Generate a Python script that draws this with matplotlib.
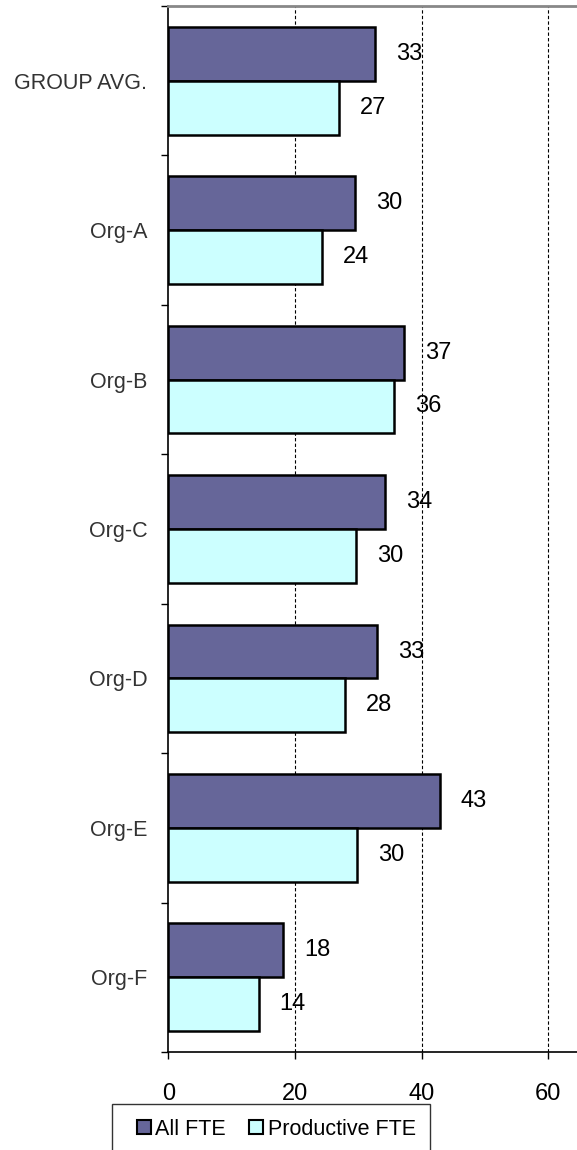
import matplotlib
matplotlib.use("Agg")
import matplotlib.pyplot as plt
from matplotlib.patches import Rectangle
import numpy as np

categories = ["GROUP AVG.", "Org-A", "Org-B", "Org-C", "Org-D", "Org-E", "Org-F"]
all_fte = [32.6, 29.5, 37.2, 34.2, 33.0, 42.9, 18.1]
productive_fte = [26.9, 24.2, 35.6, 29.7, 27.9, 29.8, 14.3]
all_labels = ["33", "30", "37", "34", "33", "43", "18"]
prod_labels = ["27", "24", "36", "30", "28", "30", "14"]
xticks = [0, 20, 40, 60]

plt.rcParams['font.family'] = ['Liberation Sans', 'DejaVu Sans']

W, H = 577, 1150
fig = plt.figure(figsize=(W / 100, H / 100), dpi=100)
left_px, top_px, bottom_px = 168.3, 6, 1052
ppu = (548.3 - 168.3) / 60.0
xmax = 65
ax = fig.add_axes([left_px / W, 1 - bottom_px / H, xmax * ppu / W, (bottom_px - top_px) / H])

y = np.arange(len(categories))
h = 0.36
dark = "#666699"
light = "#CCFFFF"
ax.barh(y - h / 2, all_fte, height=h, color=dark, edgecolor="black", linewidth=1.8, zorder=3, label="All FTE")
ax.barh(y + h / 2, productive_fte, height=h, color=light, edgecolor="black", linewidth=1.8, zorder=3, label="Productive FTE")

for yi, v, lab in zip(y, all_fte, all_labels):
    ax.annotate(lab, (v, yi - h / 2), xytext=(15, 0), textcoords="offset points",
                ha="left", va="center", fontsize=17, color="black", zorder=4)
for yi, v, lab in zip(y, productive_fte, prod_labels):
    ax.annotate(lab, (v, yi + h / 2), xytext=(15, 0), textcoords="offset points",
                ha="left", va="center", fontsize=17, color="black", zorder=4)

ax.set_xlim(0, xmax)
ax.set_ylim(len(categories) - 0.5, -0.5)

ax.set_xticks(xticks)
ax.set_xticklabels([str(t) for t in xticks], fontsize=17)
ax.tick_params(axis="x", direction="out", length=5, width=1, pad=17, colors="black")
for t in xticks[1:]:
    ax.axvline(t, color="black", linestyle=(0, (3, 2)), linewidth=0.8, zorder=1)

ax.set_yticks(np.arange(-0.5, len(categories)), minor=False)
ax.set_yticklabels([])
ax.tick_params(axis="y", which="major", direction="out", length=5, width=1)
ax.set_yticks(y, minor=True)
ax.set_yticklabels(categories, minor=True, fontsize=15.5, color="#333333")
ax.tick_params(axis="y", which="minor", length=0, pad=15)

ax.spines["right"].set_visible(False)
ax.spines["top"].set_color("#888888")
ax.spines["top"].set_linewidth(2)
ax.spines["left"].set_linewidth(1.2)
ax.spines["bottom"].set_linewidth(1.2)

# legend
leg = fig.legend(loc="upper left", bbox_to_anchor=(128 / W, 1 - 1110 / H), ncol=2, frameon=False,
                 fontsize=15.5, handlelength=0.65, handleheight=0.65, handletextpad=0.2,
                 columnspacing=1.1, borderaxespad=0)
for p in leg.get_patches():
    p.set_linewidth(1.5)
fig.patches.append(Rectangle((112 / W, -0.01), (430 - 112) / W, (1 - 1104 / H) + 0.01,
                             transform=fig.transFigure, fill=False, edgecolor="#333333", linewidth=1))

fig.savefig("out.png", dpi=100)
